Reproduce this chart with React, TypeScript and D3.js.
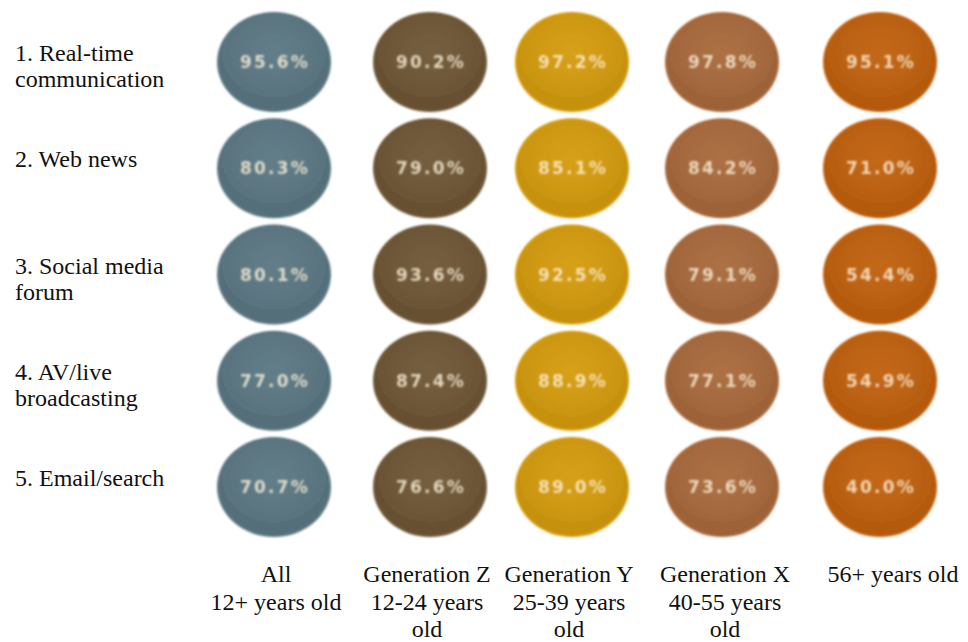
import React from "react";
import * as d3 from "d3";

// Usage rate of each internet service, by age group
const services = [
  ["1. Real-time", "communication"],
  ["2. Web news"],
  ["3. Social media", "forum"],
  ["4. AV/live", "broadcasting"],
  ["5. Email/search"],
];

const groups = ["All", "Generation Z", "Generation Y", "Generation X", "56+"];

const groupLabels = [
  ["All", "12+ years old"],
  ["Generation Z", "12-24 years", "old"],
  ["Generation Y", "25-39 years", "old"],
  ["Generation X", "40-55 years", "old"],
  ["56+ years old"],
];

const valuesAll = [95.6, 80.3, 80.1, 77.0, 70.7];
const valuesGenZ = [90.2, 79.0, 93.6, 87.4, 76.6];
const valuesGenY = [97.2, 85.1, 92.5, 88.9, 89.0];
const valuesGenX = [97.8, 84.2, 79.1, 77.1, 73.6];
const values56 = [95.1, 71.0, 54.4, 54.9, 40.0];

const series = [valuesAll, valuesGenZ, valuesGenY, valuesGenX, values56];

const groupColors = ["#5a7782", "#6e5736", "#d49b0c", "#a8693b", "#c0610e"];

const W = 968;
const H = 642;

// column centres of the bubbles and their captions
const colCenters = [274, 430, 572, 722, 880];
const captionCenters = [276, 427, 569, 725, 893];

const SERIF = "Liberation Serif, Tinos, Times New Roman, DejaVu Serif, serif";

export default function App() {
  const x = d3.scaleOrdinal<string, number>().domain(groups).range(colCenters);
  const xCaption = d3.scaleOrdinal<string, number>().domain(groups).range(captionCenters);
  const y = d3
    .scaleBand<number>()
    .domain(d3.range(services.length))
    .range([10, 539])
    .paddingInner(0.02);
  const color = d3.scaleOrdinal<string, string>().domain(groups).range(groupColors);
  const fmt = d3.format(".1f");

  const rx = 57;
  const ry = 50;

  return (
    <svg
      width={W}
      height={H}
      viewBox={`0 0 ${W} ${H}`}
      style={{ position: "absolute", left: 0, top: 0, background: "#fff" }}
    >
      <defs>
        <filter id="soft" x="-10%" y="-10%" width="120%" height="120%">
          <feGaussianBlur stdDeviation="1.3" />
        </filter>
        <filter id="softText" x="-10%" y="-20%" width="120%" height="140%">
          <feGaussianBlur stdDeviation="0.9" />
        </filter>
        <radialGradient id="sheen" cx="50%" cy="40%" r="60%">
          <stop offset="0%" stopColor="#fff" stopOpacity="0.05" />
          <stop offset="100%" stopColor="#000" stopOpacity="0.07" />
        </radialGradient>
      </defs>

      {/* row labels */}
      <g fontFamily={SERIF} fontSize={24} fill="#111">
        {services.map((lines, i) => {
          const cy = (y(i) as number) + y.bandwidth() / 2;
          return (
            <text key={i} x={15} y={cy - 1}>
              {lines.map((l, j) => (
                <tspan key={j} x={15} dy={j === 0 ? 0 : 26}>
                  {l}
                </tspan>
              ))}
            </text>
          );
        })}
      </g>

      {/* bubbles */}
      {groups.map((g, gi) => (
        <g key={g}>
          {series[gi].map((v, i) => {
            const cx = x(g);
            const cy = (y(i) as number) + y.bandwidth() / 2;
            return (
              <g key={i}>
                <ellipse cx={cx} cy={cy} rx={rx} ry={ry} fill={color(g)} filter="url(#soft)" />
                <ellipse cx={cx} cy={cy} rx={rx - 2} ry={ry - 2} fill="url(#sheen)" filter="url(#soft)" />
                <text
                  x={cx + 1}
                  y={cy}
                  textAnchor="middle"
                  dominantBaseline="central"
                  fontFamily="DejaVu Sans, Verdana, sans-serif"
                  fontWeight="bold"
                  fontSize={17}
                  letterSpacing={2.2}
                  fill="#fff4dc"
                  fillOpacity={0.78}
                  filter="url(#softText)"
                >
                  {fmt(v)}%
                </text>
              </g>
            );
          })}
        </g>
      ))}

      {/* group captions */}
      <g fontFamily={SERIF} fontSize={24} fill="#111" textAnchor="middle">
        {groups.map((g, gi) => (
          <text key={g} x={xCaption(g)} y={582}>
            {groupLabels[gi].map((l, j) => (
              <tspan key={j} x={xCaption(g)} dy={j === 0 ? 0 : 27.5}>
                {l}
              </tspan>
            ))}
          </text>
        ))}
      </g>
    </svg>
  );
}
